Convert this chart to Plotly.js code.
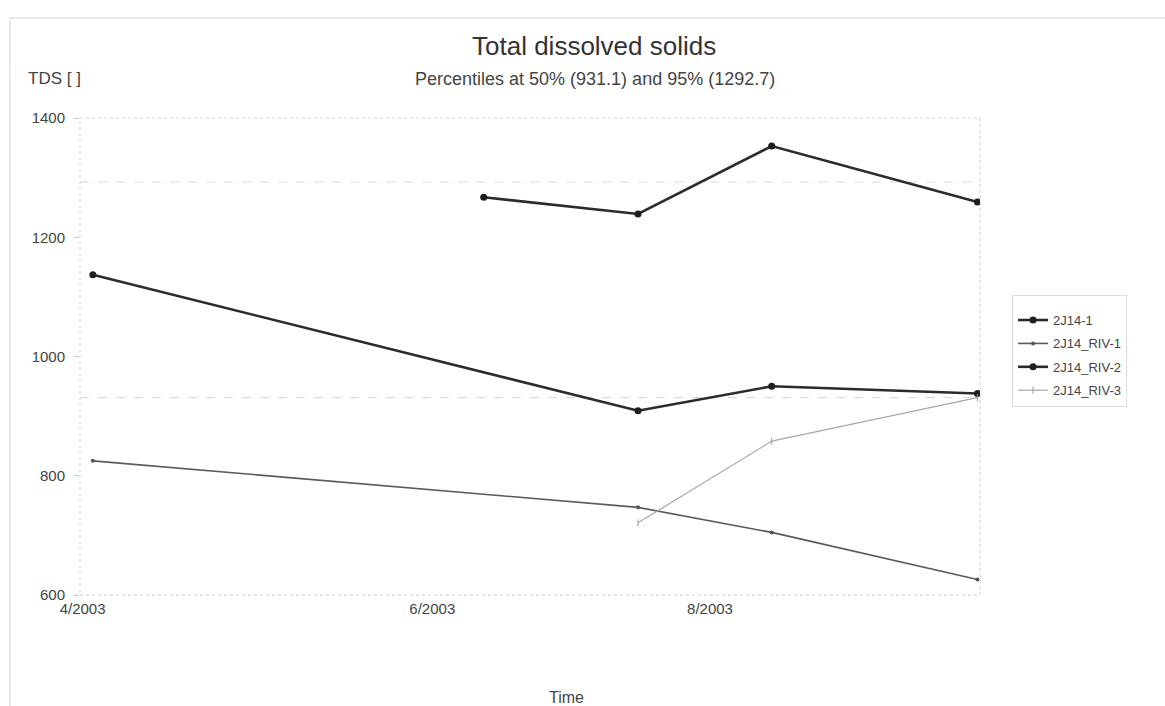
<!DOCTYPE html>
<html>
<head>
<meta charset="utf-8">
<script src="https://cdn.plot.ly/plotly-3.0.1.min.js"></script>
<style>html,body{margin:0;padding:0;background:#fff;}#chart{width:1165px;height:706px;}</style>
</head>
<body>
<div id="chart"></div>
<script>
// ---- data ----
const datesMain = ['2003-06-18', '2003-07-18', '2003-08-13', '2003-09-22'];
const datesRiv  = ['2003-04-03', '2003-07-18', '2003-08-13', '2003-09-22'];
const datesRiv3 = ['2003-07-18', '2003-08-13', '2003-09-22'];
const tds_2J14_1   = [1267, 1239, 1353, 1259];
const tds_RIV_1    = [825, 747, 705, 626];
const tds_RIV_2    = [1137, 909, 950, 938];
const tds_RIV_3    = [721, 858, 931.1];
const seriesNames  = ['2J14-1', '2J14_RIV-1', '2J14_RIV-2', '2J14_RIV-3'];
const percentileValues = [931.1, 1292.7];
const xTickDates = ['2003-04-01', '2003-06-08', '2003-08-01'];
const xTickText  = ['4/2003', '6/2003', '8/2003'];
const yTickVals  = [600, 800, 1000, 1200, 1400];

const FONT = 'Liberation Sans, Arial, sans-serif';

const traces = [
  {x: datesMain, y: tds_2J14_1, name: seriesNames[0], legendgroup: 'a', mode: 'lines+markers',
   line: {color: '#2b2b2b', width: 2.6}, marker: {color: '#1e1e1e', size: 7, symbol: 'circle'}},
  {x: datesRiv, y: tds_RIV_1, name: seriesNames[1], legendgroup: 'b', mode: 'lines+markers',
   line: {color: '#5a5a5a', width: 1.6}, marker: {color: '#555', size: 4, symbol: 'circle'}},
  {x: datesRiv, y: tds_RIV_2, name: seriesNames[2], legendgroup: 'c', mode: 'lines+markers',
   line: {color: '#2b2b2b', width: 2.6}, marker: {color: '#1e1e1e', size: 7, symbol: 'circle'}},
  {x: datesRiv3, y: tds_RIV_3, name: seriesNames[3], legendgroup: 'd', mode: 'lines+markers',
   line: {color: '#a8a8a8', width: 1.2}, marker: {color: '#999', size: 5, symbol: 'line-ns', line: {color: '#999', width: 1}}}
];

const shapes = percentileValues.map(v => ({
  type: 'line', xref: 'paper', yref: 'y', x0: 0, x1: 1, y0: v, y1: v,
  line: {color: '#dcdcdc', width: 1.2, dash: 'dash'}, layer: 'below'
}));
shapes.push({type: 'rect', xref: 'paper', yref: 'paper', x0: 0, x1: 1, y0: 0, y1: 1,
  line: {color: '#cfcfcf', width: 1, dash: 'dot'}, layer: 'below'});
// outer frame (top and left edges)
shapes.push({type: 'line', xref: 'paper', yref: 'paper', x0: -0.078, x1: 1.21, y0: 1.2096, y1: 1.2096,
  line: {color: '#e2e2e2', width: 1.5}});
shapes.push({type: 'line', xref: 'paper', yref: 'paper', x0: -0.078, x1: -0.078, y0: 1.2096, y1: -0.24,
  line: {color: '#e2e2e2', width: 1.5}});

const layout = {
  width: 1165, height: 706,
  margin: {l: 80, r: 185, t: 118, b: 111},
  paper_bgcolor: '#ffffff', plot_bgcolor: '#ffffff',
  font: {family: FONT, color: '#444', size: 15},
  showlegend: true,
  legend: {
    x: 1.0356, y: 0.629, xanchor: 'left', yanchor: 'top',
    bgcolor: '#ffffff', bordercolor: '#dddddd', borderwidth: 1,
    font: {family: FONT, size: 13, color: '#444'},
    title: {text: '\u00a0', font: {size: 7}},
    tracegroupgap: 3.5, traceorder: 'grouped', itemwidth: 30
  },
  xaxis: {
    type: 'date', range: ['2003-03-31 12:00', '2003-09-22 12:00'],
    tickmode: 'array', tickvals: xTickDates, ticktext: xTickText,
    showgrid: false, zeroline: false, showline: false, ticks: '',
    tickfont: {family: FONT, size: 15, color: '#444'}, ticklabelstandoff: 3
  },
  yaxis: {
    range: [600, 1400], tickmode: 'array', tickvals: yTickVals,
    showgrid: false, zeroline: false, showline: false,
    ticks: 'outside', ticklen: 5, tickcolor: '#c8c8c8', tickwidth: 1,
    tickfont: {family: FONT, size: 15, color: '#444'}, ticklabelstandoff: 6
  },
  shapes: shapes,
  annotations: [
    {text: 'Total dissolved solids', xref: 'paper', yref: 'paper', x: 0.571, y: 1.1505,
     xanchor: 'center', yanchor: 'middle', showarrow: false,
     font: {family: FONT, size: 26, color: '#333'}},
    {text: 'Percentiles at 50% (931.1) and 95% (1292.7)', xref: 'paper', yref: 'paper', x: 0.572, y: 1.0818,
     xanchor: 'center', yanchor: 'middle', showarrow: false,
     font: {family: FONT, size: 18, color: '#444'}},
    {text: 'TDS [ ]', xref: 'paper', yref: 'paper', x: -0.06, y: 1.0818,
     xanchor: 'left', yanchor: 'middle', showarrow: false,
     font: {family: FONT, size: 17, color: '#444'}},
    {text: 'Time', xref: 'paper', yref: 'paper', x: 0.541, y: -0.214,
     xanchor: 'center', yanchor: 'middle', showarrow: false,
     font: {family: FONT, size: 16, color: '#444'}}
  ]
};

Plotly.newPlot('chart', traces, layout, {displayModeBar: false, staticPlot: true});
</script>
</body>
</html>
